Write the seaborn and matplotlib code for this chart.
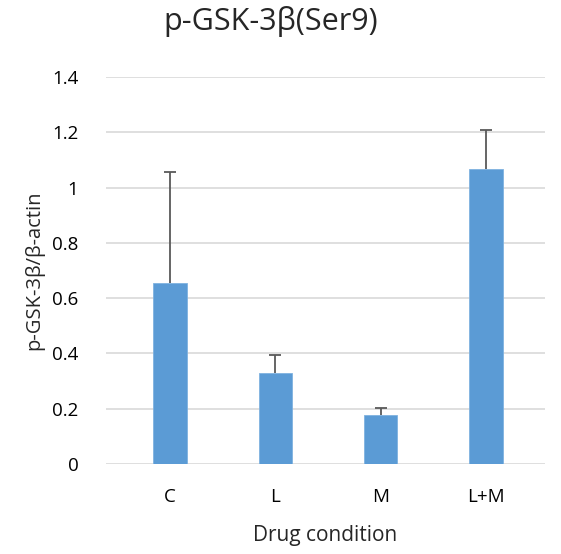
import matplotlib
matplotlib.use("Agg")
import matplotlib.pyplot as plt
import seaborn as sns
import pandas as pd

conditions = ["C", "L", "M", "L+M"]
means = [0.655, 0.33, 0.177, 1.067]
errors = [0.40, 0.065, 0.026, 0.141]
yticks = [0, 0.2, 0.4, 0.6, 0.8, 1.0, 1.2, 1.4]
ytick_labels = ["0", "0.2", "0.4", "0.6", "0.8", "1", "1.2", "1.4"]

sns.set_theme(style="white")
plt.rcParams["font.family"] = ["Open Sans", "DejaVu Sans"]

df = pd.DataFrame({"cond": conditions, "val": means})

fig = plt.figure(figsize=(5.61, 5.54), dpi=100)
ax = fig.add_axes([0.189, 0.1625, 0.782, 0.6985])

sns.barplot(data=df, x="cond", y="val", color="#5B9BD5", saturation=1,
            width=0.32, errorbar=None, ax=ax, zorder=3,
            edgecolor="#7FB2E0", linewidth=0.6)
eb = ax.errorbar(range(len(conditions)), means, yerr=[[0]*len(errors), errors],
                 fmt="none", ecolor="#595959", elinewidth=1.3, capsize=4,
                 capthick=1.3, zorder=4)
# one-sided error bars: hide the lower caps
eb[1][0].set_visible(False)

ax.set_ylim(0, 1.4)
ax.set_xlim(-0.61, 3.56)
ax.set_yticks(yticks)
ax.set_yticklabels(ytick_labels)
ax.yaxis.grid(True, color="#D9D9D9", linewidth=1.2, zorder=0)
ax.set_axisbelow(True)
for s in ax.spines.values():
    s.set_visible(False)
ax.tick_params(axis="both", length=0, labelsize=13.5, colors="#000000")
ax.tick_params(axis="y", pad=20)
ax.tick_params(axis="x", pad=17)
ax.set_xlabel("Drug condition", fontsize=15, labelpad=14)
ax.set_ylabel("p-GSK-3β/β-actin", fontsize=14.5)
ax.yaxis.set_label_coords(-0.14, 0.5)
fig.suptitle("p-GSK-3β(Ser9)", fontsize=22, x=0.482, y=0.99)

fig.savefig("out.png", dpi=100)
